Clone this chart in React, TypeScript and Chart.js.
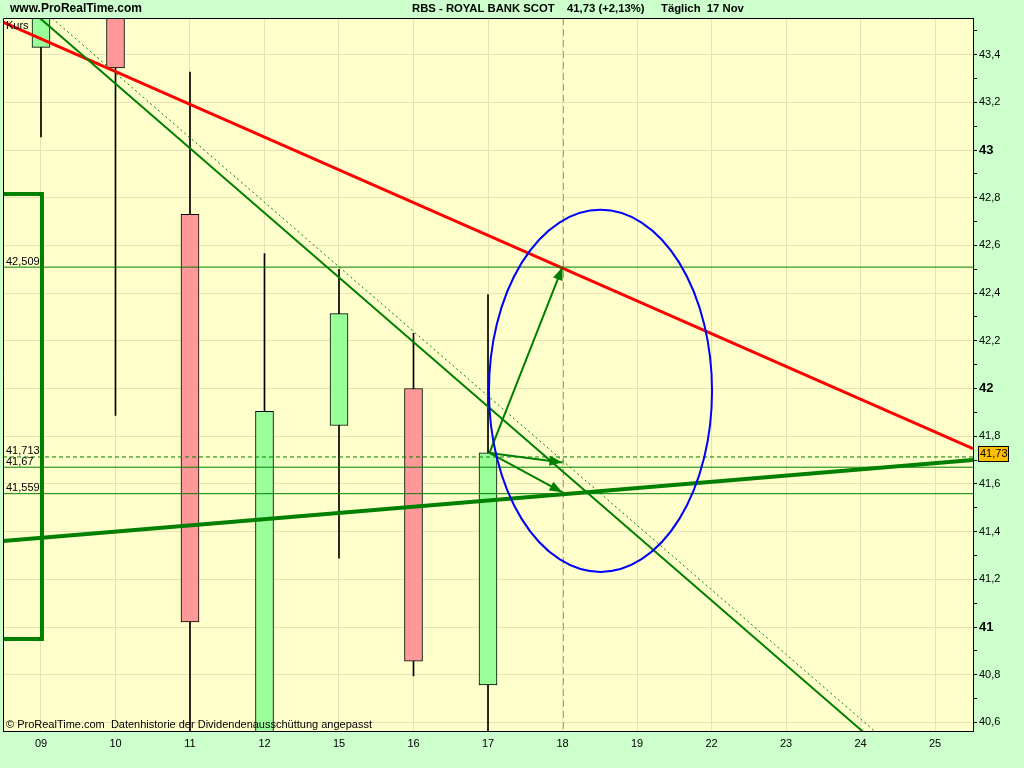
import React, { useEffect, useRef } from 'react';
import { Chart, registerables } from 'chart.js';

Chart.register(...registerables);

// ---------- data ----------
const CATEGORIES = ['09', '10', '11', '12', '15', '16', '17', '18', '19', '22', '23', '24', '25'];
const CANDLE_INDEX = [0, 1, 2, 3, 4, 5, 6];
const OPEN = [43.43, 43.66, 42.73, 40.45, 41.845, 42.0, 40.757];
const HIGH = [43.66, 43.72, 43.327, 42.566, 42.5, 42.231, 42.394];
const LOW = [43.055, 41.887, 40.45, 40.4, 41.289, 40.795, 40.45];
const CLOSE = [43.62, 43.344, 41.021, 41.904, 42.314, 40.857, 41.73];

const X_MIN = -0.51;
const X_MAX = 12.51;
const Y_MIN = 40.564;
const Y_MAX = 43.5535;

const LEVEL_VALUES = [42.509, 41.713, 41.67, 41.559];
const LEVEL_LABELS = ['42,509', '41,713', '41,67', '41,559'];
const LEVEL_DASHED = [false, true, false, false];

const RED_TREND = [[-0.51, 43.536], [12.51, 41.748]];
const GREEN_UP_TREND = [[-0.51, 41.361], [12.51, 41.7]];
const GREEN_DOWN_TREND = [[-0.51, 43.687], [12.51, 40.161]];
const GREEN_DOWN_DOTTED = [[-0.51, 43.731], [12.51, 40.206]];
const BRACKET = [[-0.51, 42.816], [0.013, 42.816], [0.013, 40.95], [-0.51, 40.95]];

const ARROW_START = [6.02, 41.73];
const ARROW_ENDS = [[7, 42.509], [7, 41.69], [7, 41.565]];

const ELLIPSE = [7.51, 41.99, 1.497, 0.759]; // centre x, centre y, radius x, radius y (data units)
const CURSOR_X = 7;

const LAST_PRICE = 41.73;
const LAST_PRICE_LABEL = '41,73';

// ---------- style ----------
const OUTER_BG = '#CCFFCC';
const PLOT_BG = '#FFFFCC';
const GRID = '#E6E2B4';
const GREEN = '#008000';
const FONT = '"Liberation Sans", Arial, sans-serif';

const toPts = (arr: number[][]) => arr.map(([x, y]) => ({ x, y }));
const tenths = (c: any) => {
  if (c && c.tick && typeof c.tick.value === 'number') return Math.round(c.tick.value * 10);
  return -1;
};

const decorPlugin = {
  id: 'decor',
  beforeDraw(chart: any) {
    const { ctx, chartArea: a, width, height } = chart;
    ctx.save();
    ctx.fillStyle = OUTER_BG;
    ctx.fillRect(0, 0, width, height);
    ctx.fillStyle = PLOT_BG;
    ctx.fillRect(a.left, a.top, a.right - a.left, a.bottom - a.top);
    ctx.restore();
  },
  beforeDatasetsDraw(chart: any) {
    const { ctx, chartArea: a, scales } = chart;
    const x = Math.round(scales.x.getPixelForValue(CURSOR_X)) + 0.5;
    ctx.save();
    ctx.strokeStyle = '#A0A0A0';
    ctx.lineWidth = 1;
    ctx.setLineDash([7, 4]);
    ctx.beginPath();
    ctx.moveTo(x, a.top);
    ctx.lineTo(x, a.bottom);
    ctx.stroke();
    ctx.restore();
  },
  afterDatasetsDraw(chart: any) {
    const { ctx, chartArea: a, scales } = chart;
    const xs = scales.x;
    const ys = scales.y;
    ctx.save();
    ctx.beginPath();
    ctx.rect(a.left, a.top, a.right - a.left, a.bottom - a.top);
    ctx.clip();
    // ellipse
    const cx = xs.getPixelForValue(ELLIPSE[0]);
    const cy = ys.getPixelForValue(ELLIPSE[1]);
    const rx = Math.abs(xs.getPixelForValue(ELLIPSE[0] + ELLIPSE[2]) - cx);
    const ry = Math.abs(ys.getPixelForValue(ELLIPSE[1] + ELLIPSE[3]) - cy);
    ctx.strokeStyle = '#0000FF';
    ctx.lineWidth = 2;
    ctx.beginPath();
    ctx.ellipse(cx, cy, rx, ry, 0, 0, Math.PI * 2);
    ctx.stroke();
    // arrowheads
    chart.data.datasets.forEach((ds: any, i: number) => {
      if (!ds.arrow) return;
      const meta = chart.getDatasetMeta(i);
      const p0 = meta.data[0];
      const p1 = meta.data[1];
      if (!p0 || !p1) return;
      const ang = Math.atan2(p1.y - p0.y, p1.x - p0.x);
      const len = 13;
      const hw = 5;
      ctx.fillStyle = GREEN;
      ctx.beginPath();
      ctx.moveTo(p1.x, p1.y);
      ctx.lineTo(p1.x - len * Math.cos(ang) + hw * Math.sin(ang), p1.y - len * Math.sin(ang) - hw * Math.cos(ang));
      ctx.lineTo(p1.x - len * Math.cos(ang) - hw * Math.sin(ang), p1.y - len * Math.sin(ang) + hw * Math.cos(ang));
      ctx.closePath();
      ctx.fill();
    });
    // level labels
    ctx.fillStyle = '#000';
    ctx.font = `11px ${FONT}`;
    ctx.textAlign = 'left';
    ctx.textBaseline = 'bottom';
    LEVEL_VALUES.forEach((v, i) => {
      ctx.fillText(LEVEL_LABELS[i], a.left + 3, ys.getPixelForValue(v));
    });
    ctx.textBaseline = 'top';
    ctx.fillText('Kurs', a.left + 3, a.top + 2);
    ctx.textBaseline = 'bottom';
    ctx.fillText('\u00A9 ProRealTime.com  Datenhistorie der Dividendenausschüttung angepasst', a.left + 3, a.bottom - 1);
    ctx.restore();
  },
  afterDraw(chart: any) {
    const { ctx, chartArea: a, scales } = chart;
    const ys = scales.y;
    ctx.save();
    // plot frame (top & left)
    ctx.strokeStyle = '#000';
    ctx.lineWidth = 1;
    ctx.beginPath();
    ctx.moveTo(a.left + 0.5, a.bottom);
    ctx.lineTo(a.left + 0.5, a.top + 0.5);
    ctx.lineTo(a.right, a.top + 0.5);
    ctx.stroke();
    // header texts
    ctx.fillStyle = '#000';
    ctx.font = `bold 12px ${FONT}`;
    ctx.textBaseline = 'middle';
    ctx.textAlign = 'left';
    ctx.fillText('www.ProRealTime.com', 10, 9);
    ctx.font = `bold 11.3px ${FONT}`;
    ctx.fillText('RBS - ROYAL BANK SCOT', 412, 9);
    ctx.fillText('41,73 (+2,13%)', 567, 9);
    ctx.fillText('Täglich  17 Nov', 661, 9);
    // last price box
    const py = Math.round(ys.getPixelForValue(LAST_PRICE));
    ctx.fillStyle = '#FFBF00';
    ctx.fillRect(a.right + 5, py - 7, 30, 15);
    ctx.strokeStyle = '#000';
    ctx.strokeRect(a.right + 5.5, py - 6.5, 30, 15);
    ctx.fillStyle = '#000';
    ctx.font = `11px ${FONT}`;
    ctx.textAlign = 'left';
    ctx.fillText(LAST_PRICE_LABEL, a.right + 7, py + 1);
    ctx.restore();
  },
};

export default function App() {
  const ref = useRef<HTMLCanvasElement | null>(null);

  useEffect(() => {
    if (!ref.current) return;
    const bodies = CANDLE_INDEX.map((x, i) => ({ x, y: [OPEN[i], CLOSE[i]] }));
    const wicks = CANDLE_INDEX.map((x, i) => ({ x, y: [LOW[i], HIGH[i]] }));
    const bodyColors = CANDLE_INDEX.map((_, i) => (CLOSE[i] >= OPEN[i] ? '#99FF99' : '#FF9999'));

    const line = (pts: number[][], color: string, width: number, dash: number[] = [], extra: any = {}) => ({
      type: 'line',
      data: toPts(pts),
      borderColor: color,
      borderWidth: width,
      borderDash: dash,
      pointRadius: 0,
      tension: 0,
      fill: false,
      order: 0,
      ...extra,
    });

    const datasets: any[] = [
      ...LEVEL_VALUES.map((v, i) => line([[X_MIN, v], [X_MAX, v]], GREEN, 1, LEVEL_DASHED[i] ? [4, 3] : [])),
      line(GREEN_DOWN_DOTTED, GREEN, 1, [2, 3]),
      line(GREEN_DOWN_TREND, GREEN, 2),
      line(GREEN_UP_TREND, GREEN, 4),
      line(RED_TREND, '#FF0000', 3),
      line(BRACKET, GREEN, 4, [], { borderJoinStyle: 'miter' }),
      ...ARROW_ENDS.map((e) => line([ARROW_START, e], GREEN, 2, [], { arrow: true })),
      {
        type: 'bar',
        data: bodies,
        backgroundColor: bodyColors,
        borderColor: '#000',
        borderWidth: 1,
        borderSkipped: false,
        barThickness: 18,
        grouped: false,
        order: 1,
      },
      {
        type: 'bar',
        data: wicks,
        backgroundColor: '#000',
        borderWidth: 0,
        barThickness: 1,
        grouped: false,
        order: 2,
      },
    ];

    const chart = new Chart(ref.current, {
      type: 'line',
      data: { datasets },
      plugins: [decorPlugin],
      options: {
        responsive: false,
        animation: false,
        events: [],
        layout: { padding: { top: 18, left: 3, right: 0, bottom: 0 } },
        plugins: { legend: { display: false }, tooltip: { enabled: false }, title: { display: false } },
        scales: {
          x: {
            type: 'linear',
            min: X_MIN,
            max: X_MAX,
            offset: false,
            grid: { color: GRID, drawTicks: false, offset: false },
            border: { color: '#000', width: 1 },
            ticks: {
              stepSize: 1,
              includeBounds: false,
              autoSkip: false,
              maxRotation: 0,
              padding: 6,
              color: '#000',
              font: { family: FONT, size: 11 },
              callback: (v: any) => CATEGORIES[Math.round(Number(v))] ?? '',
            },
            afterFit: (s: any) => {
              s.height = 37;
            },
          },
          y: {
            type: 'linear',
            position: 'right',
            min: Y_MIN,
            max: Y_MAX,
            beginAtZero: false,
            grid: {
              color: (c: any) => {
                const t = tenths(c);
                return t >= 0 && t % 2 === 0 ? GRID : 'rgba(255,255,204,0)';
              },
              tickColor: '#000',
              tickLength: 4,
            },
            border: { color: '#000', width: 1 },
            ticks: {
              stepSize: 0.1,
              includeBounds: false,
              autoSkip: false,
              padding: 2,
              color: '#000',
              font: (c: any) => {
                const t = tenths(c);
                return t >= 0 && t % 10 === 0
                  ? { family: FONT, size: 13, weight: 'bold' }
                  : { family: FONT, size: 11 };
              },
              callback: (v: any) => {
                const t = Math.round(Number(v) * 10);
                if (t % 10 === 0) return String(t / 10);
                if (t % 2 !== 0) return '';
                return (t / 10).toFixed(1).replace('.', ',');
              },
            },
            afterFit: (s: any) => {
              s.width = 51;
            },
          },
        },
      } as any,
    } as any);

    return () => chart.destroy();
  }, []);

  return (
    <div style={{ position: 'fixed', left: 0, top: 0, width: 1024, height: 768 }}>
      <canvas ref={ref} width={1024} height={768} style={{ display: 'block' }} />
    </div>
  );
}
